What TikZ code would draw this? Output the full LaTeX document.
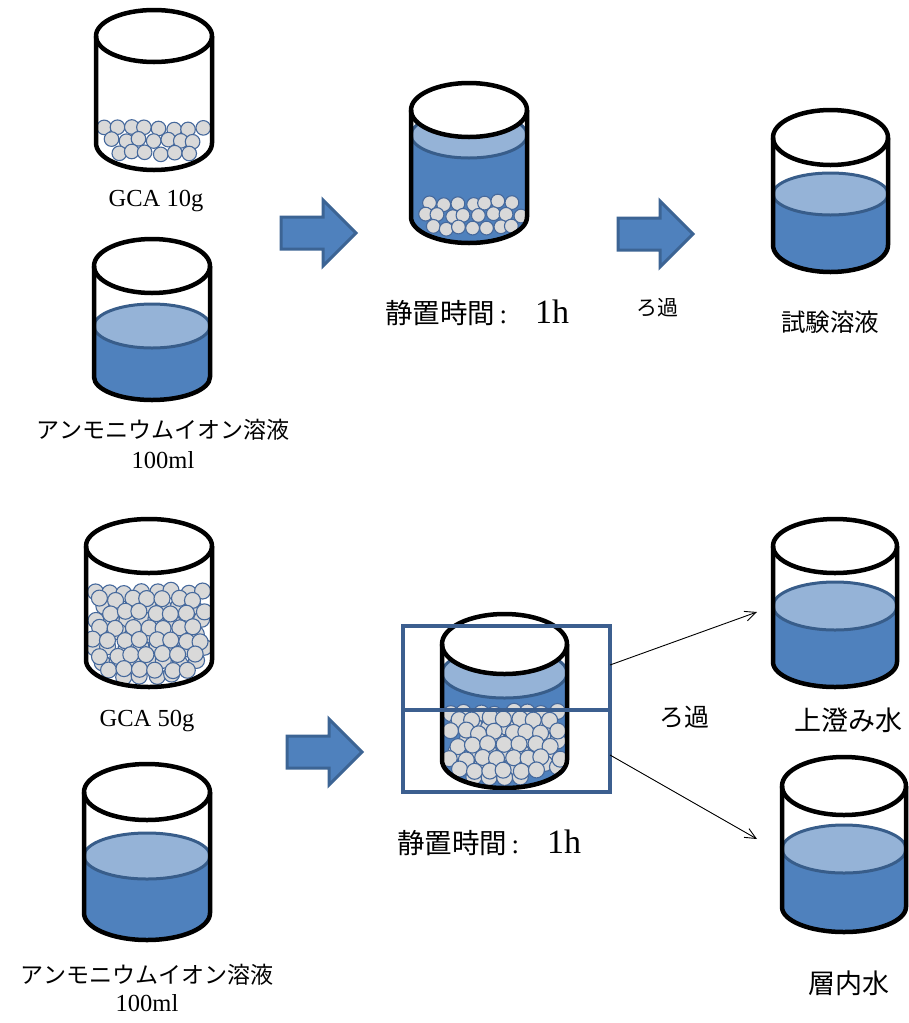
\documentclass[tikz,border=0pt]{standalone}
\usepackage{fontspec}
\setmainfont{Liberation Serif}
\newfontfamily\jpf{Noto Sans CJK JP}
\usetikzlibrary{arrows.meta}

\definecolor{water}{HTML}{4F81BD}
\definecolor{watertop}{HTML}{95B3D7}
\definecolor{waterline}{HTML}{385D8A}
\definecolor{arrowline}{HTML}{3C6494}
\definecolor{grainfill}{HTML}{D9D9D9}
\definecolor{grainline}{HTML}{46699C}
\definecolor{boxline}{HTML}{3C5F8F}

\tikzset{
  rim/.style={line width=4.5pt, draw=black, line join=round},
  surface/.style={fill=watertop, draw=waterline, line width=3pt},
  grain/.style={fill=grainfill, draw=grainline, line width=1.1pt},
  bigarrow/.style={fill=water, draw=arrowline, line width=3pt, line join=miter},
  bandbox/.style={draw=boxline, line width=4pt},
  thinarrow/.style={draw=black, line width=0.9pt, -{Straight Barb[length=11pt,width=10pt]}},
  serif/.style={inner sep=0pt, font=\fontsize{24.5}{24.5}\selectfont},
  jp/.style={inner sep=0pt, font=\jpf\fontsize{#1}{#1}\selectfont},
}

% horizontal offset of a grain layer
\def\gshift{0}

% liquid body and its surface: cx, rx, bottom centre y, bottom ry, surface y, surface ry
\newcommand\liquid[6]{%
  \fill[water] (#1-#2,#5) -- (#1-#2,#3) arc[start angle=180,end angle=0,x radius=#2,y radius=#4] -- (#1+#2,#5) -- cycle;
  \draw[surface] (#1,#5) ellipse[x radius=#2, y radius=#6];
}
% glass outline: cx, rx, top y, top ry, bottom centre y, bottom ry
\newcommand\glass[6]{%
  \draw[rim, fill=white] (#1,#3) ellipse[x radius=#2, y radius=#4];
  \draw[rim] (#1-#2,#3) -- (#1-#2,#5) arc[start angle=180,end angle=0,x radius=#2,y radius=#6] -- (#1+#2,#3);
}
% grains packed in rows: cx, rx, bottom centre y, bottom ry, first row y, last row y, radius, row gap, column gap
\newcommand\grains[9]{%
  \pgfmathtruncatemacro\gnrows{round((#6-#5)/#8)}%
  \pgfmathtruncatemacro\gncols{floor(2*(#2-#7)/#9)+2}%
  \foreach \gi in {0,...,\gnrows}{%
    \foreach \gj in {-1,...,\gncols}{%
      \pgfmathsetmacro\gx{#1-#2+#7+\gshift+\gj*#9+mod(\gi,2)*0.5*#9+2.2*rand}%
      \pgfmathsetmacro\gy{#5+\gi*#8+2*rand}%
      \pgfmathsetmacro\gin{(\gy<=#3)*(abs(\gx-#1)<=#2-#7+1.5)+(\gy>#3)*((((\gx-#1)/(#2-#7+1.5))^2+((\gy-#3)/(#4-#7+1.5))^2)<=1)}%
      \ifdim\gin pt>0.5pt \filldraw[grain] (\gx,\gy) circle[radius=#7];\fi
    }%
  }%
}
% block arrow pointing right: left x, centre y
\newcommand\fatarrow[2]{%
  \draw[bigarrow] (#1,#2-16) -- (#1+42,#2-16) -- (#1+42,#2-33) -- (#1+75,#2)
    -- (#1+42,#2+33) -- (#1+42,#2+16) -- (#1,#2+16) -- cycle;
}
% standing-time label
\newcommand\standing{{\jpf\fontsize{27.5}{27.5}\selectfont 静置時間}{\fontsize{27}{27}\selectfont\,:\hspace{28pt}}{\fontsize{34}{34}\selectfont 1h}}

\begin{document}
\begin{tikzpicture}[x=1pt,y=1pt,yscale=-1]
\fill[white] (0,0) rectangle (909,1023);
\useasboundingbox (0,0) rectangle (909,1023);

% ---- upper run: 10 g of GCA ----
\pgfmathsetseed{11}
\def\gshift{0}
\grains{154}{58}{143}{27}{128}{154}{7.3}{12.5}{14}
\glass{154}{58}{36}{26}{143}{27}
\node[serif, anchor=base] (gca1) at (156,206) {GCA 10g};

\liquid{152}{58}{377}{23}{326}{22}
\glass{152}{58}{266}{27}{377}{23}
\node[jp=23] (sol1) at (163,430) {アンモニウムイオン溶液};
\node[serif, anchor=base] (vol1) at (163,468) {100ml};

\fatarrow{281}{233}

\liquid{469}{58}{217}{26}{135}{23}
\pgfmathsetseed{23}
\grains{469}{58}{217}{26}{203}{229}{6.9}{12.5}{13.5}
\glass{469}{58}{110}{27}{217}{26}
\node[anchor=west, inner sep=0pt] (rest1) at (385,313) {\standing};

\fatarrow{618}{234}
\node[jp=21] (filt1) at (657,308) {ろ過};

\liquid{830.5}{57.5}{245}{27}{194}{21}
\glass{830.5}{57.5}{137.5}{27.5}{245}{27}
\node[jp=24.5] (test) at (830,322) {試験溶液};

% ---- lower run: 50 g of GCA ----
\pgfmathsetseed{37}
\def\gshift{0}
\grains{149}{63}{660}{27}{592}{676}{8}{14}{15.5}
\def\gshift{7.5}
\grains{149}{63}{660}{27}{599}{680}{8}{14}{15.5}
\glass{149}{63}{546}{27}{660}{27}
\node[serif, anchor=base] (gca2) at (147,726) {GCA 50g};

\liquid{147}{63}{913}{27}{856}{23}
\glass{147}{63}{792}{28}{913}{27}
\node[jp=23] (sol2) at (147,975) {アンモニウムイオン溶液};
\node[serif, anchor=base] (vol2) at (147,1011) {100ml};

\fatarrow{287}{752}

\liquid{504.5}{62.5}{760}{28}{673}{25}
\pgfmathsetseed{51}
\def\gshift{0}
\grains{504.5}{62.5}{760}{28}{713}{779}{8}{13}{15.5}
\def\gshift{7.5}
\grains{504.5}{62.5}{760}{28}{719}{783}{8}{13}{15.5}
\glass{504.5}{62.5}{644}{30}{760}{28}
\draw[bandbox] (403,626) rectangle (610,792);
\draw[bandbox] (403,710) -- (610,710);
\node[anchor=west, inner sep=0pt] (rest2) at (397,843) {\standing};

\coordinate (topout) at (610,665);
\coordinate (botout) at (610,755);
\coordinate (topin) at (757,612);
\coordinate (botin) at (757,839);
\draw[thinarrow] (topout) -- (topin);
\draw[thinarrow] (botout) -- (botin);
\node[jp=25] (filt2) at (684,717) {ろ過};

\liquid{835}{62}{662}{25}{606}{24}
\glass{835}{62}{546}{27}{662}{25}
\node[jp=27] (sup) at (848,720) {上澄み水};

\liquid{844}{62}{907}{25}{849}{24}
\glass{844}{62}{786}{29}{907}{25}
\node[jp=27] (inner) at (849,983) {層内水};
\end{tikzpicture}
\end{document}
